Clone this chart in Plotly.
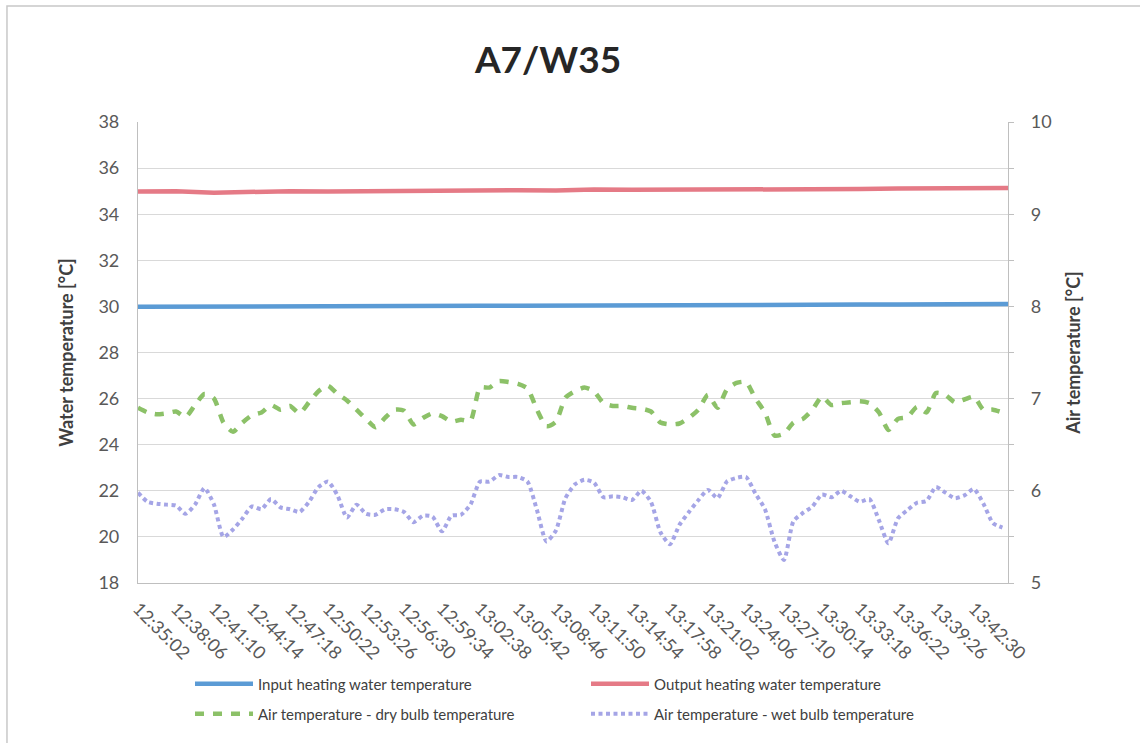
import numpy as np
import pandas as pd
import plotly.graph_objects as go

# --- measurement log -------------------------------------------------------
START = "2000-01-01 12:35:02"
AIR_STEP_S = 46      # air sensors logged every 46 s
WATER_STEP_S = 184   # water temperatures logged every 184 s

input_water = [29.98, 29.99, 29.99, 30.00, 30.00, 29.99, 30.01, 30.02, 30.02, 30.03,
               30.03, 30.04, 30.05, 30.05, 30.05, 30.06, 30.06, 30.07, 30.07, 30.08,
               30.08, 30.09, 30.10, 30.11]
output_water = [34.98, 35.00, 34.93, 34.98, 35.00, 34.98, 35.00, 35.02, 35.02, 35.05,
                35.04, 35.03, 35.07, 35.06, 35.06, 35.08, 35.08, 35.06, 35.10, 35.09,
                35.12, 35.12, 35.12, 35.14]

dry_bulb = [6.90, 6.85, 6.83, 6.84, 6.86, 6.80, 6.93, 7.05, 7.00, 6.74,
            6.64, 6.74, 6.82, 6.85, 6.93, 6.88, 6.92, 6.84, 6.96, 7.08,
            7.14, 7.05, 6.98, 6.88, 6.78, 6.69, 6.79, 6.88, 6.87, 6.72,
            6.79, 6.84, 6.81, 6.75, 6.77, 6.76, 7.12, 7.12, 7.19, 7.18,
            7.16, 7.11, 6.88, 6.70, 6.75, 7.01, 7.08, 7.12, 7.08, 6.95,
            6.92, 6.92, 6.90, 6.89, 6.86, 6.74, 6.72, 6.73, 6.79, 6.88,
            7.04, 6.90, 7.10, 7.17, 7.18, 7.00, 6.85, 6.60, 6.62, 6.74,
            6.78, 6.88, 7.02, 6.93, 6.95, 6.96, 6.97, 6.95, 6.85, 6.66,
            6.78, 6.80, 6.91, 6.85, 7.06, 7.04, 6.96, 6.99, 7.02, 6.88,
            6.88, 6.85]

wet_bulb = [5.98, 5.88, 5.86, 5.85, 5.84, 5.75, 5.85, 6.03, 5.85, 5.50,
            5.58, 5.70, 5.83, 5.80, 5.91, 5.82, 5.80, 5.77, 5.88, 6.04,
            6.10, 5.95, 5.71, 5.85, 5.75, 5.74, 5.80, 5.80, 5.77, 5.66,
            5.73, 5.72, 5.56, 5.73, 5.74, 5.85, 6.10, 6.10, 6.17, 6.15,
            6.15, 6.10, 5.79, 5.45, 5.57, 5.92, 6.07, 6.12, 6.09, 5.93,
            5.94, 5.93, 5.90, 6.00, 5.88, 5.55, 5.42, 5.63, 5.77, 5.90,
            6.01, 5.92, 6.10, 6.14, 6.15, 5.97, 5.80, 5.45, 5.25, 5.67,
            5.76, 5.83, 5.96, 5.93, 6.00, 5.94, 5.88, 5.91, 5.68, 5.43,
            5.70, 5.79, 5.87, 5.89, 6.04, 5.98, 5.92, 5.95, 6.02, 5.86,
            5.65, 5.60]

tick_labels = ["12:35:02", "12:38:06", "12:41:10", "12:44:14", "12:47:18", "12:50:22",
               "12:53:26", "12:56:30", "12:59:34", "13:02:38", "13:05:42", "13:08:46",
               "13:11:50", "13:14:54", "13:17:58", "13:21:02", "13:24:06", "13:27:10",
               "13:30:14", "13:33:18", "13:36:22", "13:39:26", "13:42:30"]

t0 = pd.Timestamp(START)
t_air = t0 + pd.to_timedelta(np.arange(len(dry_bulb)) * AIR_STEP_S, unit="s")
t_water = t0 + pd.to_timedelta(np.arange(len(input_water)) * WATER_STEP_S, unit="s")
tick_vals = [pd.Timestamp("2000-01-01 " + s) for s in tick_labels]
x_end = t0 + pd.Timedelta(seconds=4213)

FONT = "Lato"
GRID = "#D9D9D9"
AXIS = "#BFBFBF"

fig = go.Figure()
fig.add_trace(go.Scatter(x=t_water, y=input_water, mode="lines",
                         name="Input heating water temperature", legend="legend",
                         line=dict(color="#5B9BD5", width=4.5)))
fig.add_trace(go.Scatter(x=t_water, y=output_water, mode="lines",
                         name="Output heating water temperature", legend="legend",
                         line=dict(color="#E57A86", width=4.5)))
fig.add_trace(go.Scatter(x=t_air, y=dry_bulb, mode="lines", yaxis="y2",
                         name="Air temperature - dry bulb temperature", legend="legend2",
                         line=dict(color="#8CC168", width=4.5, dash="9px,9px",
                                   shape="spline", smoothing=0.6)))
fig.add_trace(go.Scatter(x=t_air, y=wet_bulb, mode="lines", yaxis="y2",
                         name="Air temperature - wet bulb temperature", legend="legend2",
                         line=dict(color="#A5A5E6", width=4, dash="4px,3.5px",
                                   shape="spline", smoothing=0.6)))

# outer chart frame
fig.add_shape(type="rect", xref="paper", yref="paper",
              x0=-0.1506, x1=1.17, y0=-0.45, y1=1.2516,
              line=dict(color="#C8C8C8", width=1.5), fillcolor="rgba(0,0,0,0)",
              layer="below")

legend_style = dict(orientation="h", xref="container", x=190 / 1140, xanchor="left",
                    yref="container", yanchor="middle",
                    entrywidth=323, entrywidthmode="pixels", itemwidth=58,
                    font=dict(size=15, color="#404040", family=FONT),
                    bgcolor="rgba(0,0,0,0)")

fig.update_layout(
    width=1140, height=743,
    margin=dict(l=138, r=132, t=122, b=160, autoexpand=False),
    paper_bgcolor="white", plot_bgcolor="white",
    font=dict(family=FONT, color="#595959"),
    title=dict(text="<b>A7/W35</b>", x=548 / 1140, xanchor="center",
               y=1 - 60 / 743, yanchor="middle",
               font=dict(size=37, color="#262626", family=FONT)),
    showlegend=True,
    legend=dict(legend_style, y=1 - 684 / 743),
    legend2=dict(legend_style, y=1 - 714 / 743),
    xaxis=dict(type="date", range=[t0, x_end], tickvals=tick_vals,
               ticktext=tick_labels, tickangle=45, showgrid=False,
               showline=True, linecolor=AXIS, linewidth=1.2, ticks="",
               ticklabelstandoff=7,
               tickfont=dict(size=18, color="#595959"), zeroline=False),
    yaxis=dict(range=[18, 38], dtick=2, showgrid=True, gridcolor=GRID,
               gridwidth=1.3, showline=True, linecolor=AXIS, linewidth=1.2,
               zeroline=False, ticks="", ticklabelstandoff=14,
               tickfont=dict(size=18, color="#595959"),
               title=dict(text="<b>Water temperature [°C]</b>", standoff=20,
                          font=dict(size=18, color="#404040"))),
    yaxis2=dict(range=[5, 10], dtick=1, overlaying="y", side="right",
                showgrid=False, showline=True, linecolor=AXIS, linewidth=1.2,
                zeroline=False, ticks="outside", ticklen=5, tickcolor=AXIS,
                ticklabelstandoff=13,
                minor=dict(dtick=0.5, ticks="outside", ticklen=5, tickcolor=AXIS),
                tickfont=dict(size=18, color="#595959"),
                title=dict(text="<b>Air temperature [°C]</b>", standoff=16,
                           font=dict(size=18, color="#404040"))),
)

fig.write_html("out.html")
